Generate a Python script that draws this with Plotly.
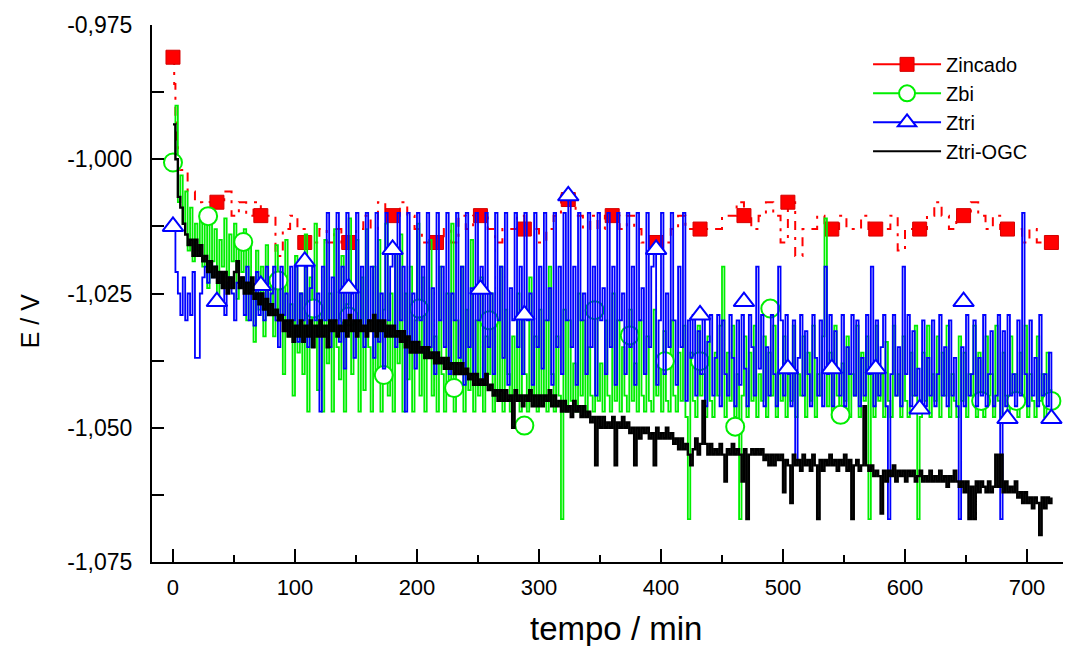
import plotly.graph_objects as go

# ---------------- data ----------------
t_2min = list(range(0, 721, 2))

ztri_ogc = [
    -0.9935, -1.000, -1.007, -1.009, -1.012, -1.014, -1.016, -1.015, -1.018, -1.015,
    -1.018, -1.016, -1.019, -1.018, -1.021, -1.019, -1.022, -1.020, -1.023, -1.021,
    -1.024, -1.021, -1.025, -1.022, -1.024, -1.021, -1.019, -1.024, -1.022, -1.025,
    -1.023, -1.025, -1.022, -1.026, -1.025, -1.027, -1.025, -1.028, -1.026, -1.029,
    -1.027, -1.029, -1.028, -1.030, -1.029, -1.032, -1.030, -1.033, -1.030, -1.034,
    -1.031, -1.033, -1.030, -1.034, -1.031, -1.033, -1.030, -1.035, -1.031, -1.033,
    -1.030, -1.033, -1.031, -1.035, -1.030, -1.032, -1.030, -1.033, -1.031, -1.032,
    -1.030, -1.033, -1.029, -1.032, -1.030, -1.033, -1.030, -1.032, -1.031, -1.033,
    -1.030, -1.032, -1.029, -1.033, -1.030, -1.032, -1.030, -1.033, -1.031, -1.033,
    -1.031, -1.033, -1.032, -1.034, -1.032, -1.035, -1.033, -1.036, -1.034, -1.036,
    -1.034, -1.036, -1.035, -1.037, -1.035, -1.037, -1.036, -1.038, -1.036, -1.038,
    -1.037, -1.039, -1.037, -1.039, -1.038, -1.040, -1.038, -1.040, -1.038, -1.040,
    -1.039, -1.041, -1.040, -1.042, -1.040, -1.042, -1.041, -1.042, -1.040, -1.043,
    -1.042, -1.044, -1.043, -1.045, -1.043, -1.045, -1.043, -1.045, -1.044, -1.050,
    -1.043, -1.045, -1.044, -1.046, -1.044, -1.045, -1.043, -1.046, -1.044, -1.046,
    -1.044, -1.046, -1.044, -1.045, -1.043, -1.046, -1.044, -1.046, -1.045, -1.047,
    -1.045, -1.047, -1.046, -1.048, -1.045, -1.047, -1.046, -1.048, -1.046, -1.048,
    -1.047, -1.049, -1.048, -1.057, -1.048, -1.050, -1.048, -1.050, -1.049, -1.050,
    -1.048, -1.057, -1.049, -1.050, -1.048, -1.050, -1.049, -1.051, -1.050, -1.057,
    -1.050, -1.052, -1.050, -1.051, -1.050, -1.052, -1.051, -1.057, -1.050, -1.052,
    -1.051, -1.052, -1.050, -1.052, -1.051, -1.053, -1.052, -1.054, -1.052, -1.054,
    -1.053, -1.055, -1.057, -1.054, -1.052, -1.055, -1.053, -1.045, -1.053, -1.055,
    -1.053, -1.055, -1.054, -1.055, -1.053, -1.055, -1.060, -1.054, -1.055, -1.053,
    -1.055, -1.054, -1.055, -1.060, -1.054, -1.067, -1.055, -1.054, -1.055, -1.054,
    -1.055, -1.054, -1.056, -1.055, -1.057, -1.055, -1.057, -1.055, -1.056, -1.055,
    -1.062, -1.056, -1.057, -1.064, -1.055, -1.057, -1.056, -1.058, -1.055, -1.057,
    -1.056, -1.058, -1.055, -1.057, -1.067, -1.056, -1.058, -1.056, -1.057, -1.055,
    -1.057, -1.056, -1.058, -1.056, -1.057, -1.055, -1.058, -1.056, -1.067, -1.057,
    -1.056, -1.058, -1.057, -1.046, -1.057, -1.058, -1.057, -1.059, -1.058, -1.059,
    -1.066, -1.058, -1.060, -1.058, -1.059, -1.057, -1.060, -1.058, -1.059, -1.058,
    -1.060, -1.058, -1.059, -1.058, -1.060, -1.059, -1.058, -1.060, -1.059, -1.060,
    -1.058, -1.060, -1.059, -1.060, -1.058, -1.060, -1.059, -1.061, -1.059, -1.060,
    -1.058, -1.060, -1.061, -1.060, -1.062, -1.060, -1.067, -1.061, -1.067, -1.060,
    -1.062, -1.060, -1.061, -1.062, -1.060, -1.062, -1.061, -1.055, -1.061, -1.055,
    -1.062, -1.060, -1.062, -1.061, -1.062, -1.060, -1.063, -1.062, -1.064, -1.062,
    -1.064, -1.063, -1.065, -1.063, -1.064, -1.070, -1.063, -1.065, -1.063, -1.064,
    -1.063,
]

ztri = [
    -1.013, -1.021, -1.025, -1.029, -1.022, -1.030, -1.025, -1.029, -1.021, -1.037,
    -1.037, -1.025, -1.022, -1.020, -1.023, -1.021, -1.022, -1.020, -1.023, -1.021,
    -1.024, -1.029, -1.023, -1.022, -1.025, -1.030, -1.023, -1.024, -1.022, -1.029,
    -1.020, -1.030, -1.025, -1.031, -1.021, -1.029, -1.025, -1.030, -1.020, -1.029,
    -1.025, -1.020, -1.030, -1.035, -1.020, -1.029, -1.025, -1.032, -1.020, -1.030,
    -1.020, -1.034, -1.025, -1.030, -1.020, -1.035, -1.024, -1.020, -1.030, -1.025,
    -1.047, -1.020, -1.030, -1.010, -1.035, -1.022, -1.030, -1.010, -1.034, -1.020,
    -1.039, -1.010, -1.030, -1.025, -1.037, -1.010, -1.032, -1.020, -1.035, -1.010,
    -1.030, -1.020, -1.037, -1.010, -1.034, -1.025, -1.039, -1.010, -1.030, -1.020,
    -1.017, -1.035, -1.010, -1.030, -1.020, -1.047, -1.010, -1.034, -1.025, -1.039,
    -1.010, -1.030, -1.020, -1.037, -1.010, -1.035, -1.024, -1.040, -1.010, -1.030,
    -1.020, -1.035, -1.010, -1.040, -1.025, -1.030, -1.010, -1.037, -1.020, -1.042,
    -1.010, -1.035, -1.024, -1.040, -1.010, -1.030, -1.020, -1.042, -1.010, -1.035,
    -1.025, -1.040, -1.010, -1.030, -1.020, -1.037, -1.010, -1.042, -1.024, -1.030,
    -1.010, -1.035, -1.020, -1.040, -1.010, -1.030, -1.025, -1.042, -1.010, -1.035,
    -1.020, -1.039, -1.010, -1.030, -1.024, -1.042, -1.010, -1.035, -1.020, -1.040,
    -1.010, -1.030, -1.007, -1.035, -1.020, -1.042, -1.010, -1.030, -1.025, -1.040,
    -1.010, -1.035, -1.020, -1.044, -1.010, -1.030, -1.024, -1.040, -1.010, -1.035,
    -1.020, -1.042, -1.010, -1.030, -1.025, -1.040, -1.010, -1.035, -1.020, -1.042,
    -1.010, -1.030, -1.024, -1.040, -1.010, -1.035, -1.020, -1.017, -1.042, -1.030,
    -1.010, -1.040, -1.025, -1.035, -1.010, -1.030, -1.042, -1.020, -1.035, -1.010,
    -1.045, -1.030, -1.037, -1.029, -1.044, -1.032, -1.040, -1.029, -1.046, -1.034,
    -1.029, -1.044, -1.037, -1.029, -1.046, -1.030, -1.040, -1.044, -1.029, -1.037,
    -1.046, -1.030, -1.042, -1.029, -1.039, -1.046, -1.029, -1.035, -1.044, -1.020,
    -1.039, -1.029, -1.046, -1.035, -1.044, -1.029, -1.040, -1.046, -1.020, -1.030,
    -1.044, -1.029, -1.040, -1.046, -1.030, -1.056, -1.037, -1.029, -1.044, -1.032,
    -1.040, -1.046, -1.029, -1.037, -1.044, -1.030, -1.046, -1.020, -1.040, -1.029,
    -1.046, -1.032, -1.039, -1.044, -1.029, -1.046, -1.035, -1.040, -1.029, -1.044,
    -1.030, -1.046, -1.037, -1.044, -1.029, -1.040, -1.020, -1.046, -1.030, -1.044,
    -1.035, -1.029, -1.046, -1.067, -1.040, -1.029, -1.044, -1.035, -1.046, -1.020,
    -1.040, -1.029, -1.046, -1.032, -1.044, -1.039, -1.046, -1.030, -1.046, -1.037,
    -1.044, -1.030, -1.046, -1.040, -1.029, -1.044, -1.035, -1.046, -1.030, -1.044,
    -1.037, -1.046, -1.067, -1.035, -1.046, -1.029, -1.044, -1.040, -1.030, -1.046,
    -1.037, -1.044, -1.029, -1.046, -1.040, -1.032, -1.046, -1.044, -1.029, -1.067,
    -1.032, -1.046, -1.029, -1.044, -1.040, -1.046, -1.030, -1.044, -1.010, -1.040,
    -1.046, -1.030, -1.044, -1.037, -1.046, -1.029, -1.044, -1.040, -1.046, -1.036,
    -1.048,
]

zbi = [
    -1.001, -0.990, -1.008, -1.003, -1.012, -1.006, -1.017, -1.009, -1.019, -1.012,
    -1.017, -1.010, -1.020, -1.012, -1.024, -1.011, -1.019, -1.013, -1.026, -1.015,
    -1.020, -1.011, -1.024, -1.014, -1.019, -1.012, -1.026, -1.015, -1.021, -1.013,
    -1.030, -1.016, -1.025, -1.034, -1.017, -1.028, -1.020, -1.033, -1.016, -1.027,
    -1.022, -1.033, -1.016, -1.030, -1.024, -1.040, -1.015, -1.033, -1.027, -1.044,
    -1.018, -1.036, -1.025, -1.040, -1.014, -1.047, -1.022, -1.035, -1.012, -1.043,
    -1.028, -1.047, -1.015, -1.038, -1.025, -1.047, -1.013, -1.035, -1.041, -1.018,
    -1.047, -1.027, -1.011, -1.040, -1.030, -1.015, -1.047, -1.022, -1.043, -1.013,
    -1.035, -1.047, -1.020, -1.040, -1.015, -1.047, -1.028, -1.012, -1.044, -1.025,
    -1.047, -1.017, -1.038, -1.014, -1.047, -1.025, -1.041, -1.020, -1.047, -1.030,
    -1.012, -1.044, -1.022, -1.047, -1.028, -1.015, -1.044, -1.033, -1.047, -1.020,
    -1.040, -1.047, -1.025, -1.044, -1.012, -1.047, -1.030, -1.040, -1.020, -1.047,
    -1.028, -1.043, -1.015, -1.047, -1.030, -1.044, -1.022, -1.047, -1.033, -1.040,
    -1.025, -1.047, -1.030, -1.044, -1.020, -1.047, -1.028, -1.040, -1.047, -1.033,
    -1.044, -1.025, -1.047, -1.030, -1.040, -1.047, -1.022, -1.044, -1.033, -1.047,
    -1.028, -1.045, -1.030, -1.047, -1.020, -1.040, -1.047, -1.033, -1.044, -1.067,
    -1.028, -1.047, -1.030, -1.045, -1.038, -1.047, -1.025, -1.044, -1.030, -1.047,
    -1.035, -1.044, -1.047, -1.028, -1.045, -1.038, -1.047, -1.030, -1.044, -1.047,
    -1.025, -1.045, -1.030, -1.047, -1.035, -1.044, -1.047, -1.028, -1.045, -1.038,
    -1.047, -1.030, -1.044, -1.047, -1.033, -1.045, -1.047, -1.028, -1.044, -1.038,
    -1.047, -1.032, -1.045, -1.047, -1.030, -1.044, -1.047, -1.036, -1.045, -1.031,
    -1.048, -1.067, -1.036, -1.045, -1.048, -1.031, -1.044, -1.040, -1.048, -1.033,
    -1.045, -1.048, -1.036, -1.044, -1.031, -1.020, -1.048, -1.036, -1.045, -1.031,
    -1.048, -1.040, -1.067, -1.044, -1.033, -1.048, -1.036, -1.045, -1.031, -1.048,
    -1.040, -1.045, -1.033, -1.048, -1.036, -1.044, -1.031, -1.048, -1.040, -1.045,
    -1.033, -1.048, -1.038, -1.045, -1.031, -1.048, -1.040, -1.044, -1.033, -1.048,
    -1.036, -1.045, -1.031, -1.048, -1.040, -1.044, -1.033, -1.011, -1.046, -1.036,
    -1.048, -1.031, -1.044, -1.048, -1.038, -1.045, -1.033, -1.048, -1.040, -1.044,
    -1.031, -1.048, -1.036, -1.045, -1.033, -1.067, -1.040, -1.048, -1.031, -1.045,
    -1.040, -1.048, -1.034, -1.045, -1.048, -1.031, -1.044, -1.040, -1.048, -1.033,
    -1.045, -1.048, -1.036, -1.044, -1.031, -1.067, -1.048, -1.036, -1.045, -1.031,
    -1.048, -1.040, -1.045, -1.033, -1.048, -1.036, -1.044, -1.031, -1.048, -1.040,
    -1.045, -1.048, -1.033, -1.045, -1.036, -1.048, -1.040, -1.044, -1.031, -1.048,
    -1.036, -1.045, -1.048, -1.033, -1.044, -1.040, -1.048, -1.031, -1.045, -1.048,
    -1.036, -1.044, -1.048, -1.033, -1.045, -1.040, -1.048, -1.036, -1.045, -1.031,
    -1.048, -1.040, -1.045, -1.048, -1.033, -1.045, -1.040, -1.048, -1.036, -1.043,
    -1.045,
]

zincado_t = [0, 1, 2, 3, 4] + list(range(6, 721, 6))
zincado = [
    -0.981, -0.986, -0.992, -0.997, -1.001,
    -1.002, -1.006, -1.008, -1.0105, -1.008, -1.008, -1.006, -1.0105, -1.008, -1.0105,
    -1.008, -1.0105, -1.0105, -1.018, -1.013, -1.0105, -1.013, -1.0155, -1.0155, -1.013,
    -1.0155, -1.013, -1.0155, -1.0155, -1.013, -1.0105, -1.013, -1.008, -1.0105, -1.0105,
    -1.008, -1.0105, -1.013, -1.0155, -1.0155, -1.0155, -1.013, -1.0155, -1.0105, -1.013,
    -1.0105, -1.0105, -1.013, -1.0155, -1.013, -1.013, -1.0105, -1.013, -1.013, -1.0155,
    -1.013, -1.0105, -1.006, -1.0075, -1.0105, -1.013, -1.0105, -1.013, -1.0105, -1.0105,
    -1.013, -1.0105, -1.013, -1.0155, -1.0155, -1.0155, -1.0155, -1.013, -1.0105, -1.013,
    -1.013, -1.013, -1.013, -1.013, -1.0105, -1.0105, -1.008, -1.0105, -1.013, -1.0105,
    -1.008, -1.0105, -1.0155, -1.008, -1.018, -1.013, -1.013, -1.0105, -1.013, -1.013,
    -1.0105, -1.013, -1.013, -1.0105, -1.013, -1.013, -1.013, -1.0105, -1.017, -1.013,
    -1.013, -1.013, -1.0105, -1.008, -1.0105, -1.013, -1.0105, -1.0105, -1.008, -1.0105,
    -1.013, -1.0105, -1.013, -1.013, -1.013, -1.0155, -1.013, -1.0155, -1.0155, -1.0155,
]

# symbol positions
zincado_sym_t = list(range(0, 721, 36))
zincado_sym = [-0.981, -1.008, -1.0105, -1.0155, -1.0155, -1.0105, -1.0155, -1.0105,
               -1.013, -1.0075, -1.0105, -1.0155, -1.013, -1.0105, -1.008, -1.013,
               -1.013, -1.013, -1.0105, -1.013, -1.0155]

ztri_sym_t = [0, 36, 72, 108, 144, 180, 252, 288, 324, 396, 432, 468, 504, 540,
              576, 612, 648, 684, 720]
ztri_sym = [-1.0125, -1.0265, -1.0235, -1.019, -1.024, -1.0168, -1.0242, -1.029,
            -1.0068, -1.0168, -1.029, -1.0265, -1.039, -1.039, -1.039, -1.0465,
            -1.0265, -1.0483, -1.0483]

zbi_sym_t = [0, 28.8, 57.6, 86.4, 115.2, 144, 172.8, 201.6, 230.4, 259.2, 288,
             345.6, 374.4, 403.2, 432, 460.8, 489.6, 547.2, 662.4, 691.2, 720]
zbi_sym = [-1.0006, -1.0106, -1.0154, -1.0226, -1.0278, -1.0293, -1.0402, -1.0278,
           -1.0426, -1.0300, -1.0496, -1.0281, -1.0328, -1.0376, -1.0376, -1.0498,
           -1.0278, -1.0476, -1.0450, -1.0450, -1.0450]

y_tickvals = [-1.075, -1.050, -1.025, -1.000, -0.975]
y_ticktext = ['-1,075', '-1,050', '-1,025', '-1,000', '-0,975']
y_minorvals = [-1.0625, -1.0375, -1.0125, -0.9875]

assert len(ztri_ogc) == len(t_2min)
assert len(ztri) == len(t_2min)
assert len(zbi) == len(t_2min)
assert len(zincado) == len(zincado_t)

RED, GREEN, BLUE, BLACK = '#ff0000', '#00ee00', '#0000ff', '#000000'

fig = go.Figure()

# Zincado
fig.add_trace(go.Scatter(x=zincado_t, y=zincado, mode='lines', line_shape='hv',
                         line=dict(color=RED, width=2, dash='9px,7px,3px,7px'),
                         showlegend=False, hoverinfo='skip'))
fig.add_trace(go.Scatter(x=zincado_sym_t, y=zincado_sym, mode='markers',
                         marker=dict(symbol='square', size=14, color=RED,
                                     line=dict(color='#d40000', width=1)),
                         showlegend=False, hoverinfo='skip'))
# Zbi
fig.add_trace(go.Scatter(x=t_2min, y=zbi, mode='lines', line_shape='hv',
                         line=dict(color=GREEN, width=1.8),
                         showlegend=False, hoverinfo='skip'))
fig.add_trace(go.Scatter(x=zbi_sym_t, y=zbi_sym, mode='markers',
                         marker=dict(symbol='circle', size=18, color='white',
                                     line=dict(color=GREEN, width=2)),
                         showlegend=False, hoverinfo='skip'))
# Ztri
fig.add_trace(go.Scatter(x=t_2min, y=ztri, mode='lines', line_shape='hv',
                         line=dict(color=BLUE, width=1.8),
                         showlegend=False, hoverinfo='skip'))
fig.add_trace(go.Scatter(x=ztri_sym_t, y=ztri_sym, mode='markers',
                         marker=dict(symbol='triangle-up', size=18, color='white',
                                     line=dict(color=BLUE, width=2)),
                         showlegend=False, hoverinfo='skip'))
# Ztri-OGC
fig.add_trace(go.Scatter(x=t_2min, y=ztri_ogc, mode='lines', line_shape='hv',
                         line=dict(color=BLACK, width=2.4),
                         showlegend=False, hoverinfo='skip'))

# legend entries
fig.add_trace(go.Scatter(x=[None], y=[None], mode='lines+markers', name='Zincado',
                         line=dict(color=RED, width=2),
                         marker=dict(symbol='square', size=14, color=RED,
                                     line=dict(color='#d40000', width=1))))
fig.add_trace(go.Scatter(x=[None], y=[None], mode='lines+markers', name='Zbi',
                         line=dict(color=GREEN, width=2),
                         marker=dict(symbol='circle', size=16, color='white',
                                     line=dict(color=GREEN, width=2))))
fig.add_trace(go.Scatter(x=[None], y=[None], mode='lines+markers', name='Ztri',
                         line=dict(color=BLUE, width=2),
                         marker=dict(symbol='triangle-up', size=16, color='white',
                                     line=dict(color=BLUE, width=2))))
fig.add_trace(go.Scatter(x=[None], y=[None], mode='lines', name='Ztri-OGC',
                         line=dict(color=BLACK, width=2)))

fig.update_layout(
    width=1082, height=646,
    margin=dict(l=152, r=19, t=20, b=84),
    paper_bgcolor='white', plot_bgcolor='white',
    font=dict(family='Liberation Sans, Arial, sans-serif', color='black'),
    showlegend=True,
    legend=dict(x=0.786, y=0.963, xanchor='left', yanchor='top',
                bgcolor='rgba(0,0,0,0)', font=dict(size=20, color='black'),
                itemwidth=68, tracegroupgap=0),
    annotations=[
        dict(text='tempo / min', xref='paper', yref='paper', x=0.509, y=-0.124,
             xanchor='center', yanchor='middle', showarrow=False,
             font=dict(size=33)),
        dict(text='E / V', xref='paper', yref='paper', x=-0.134, y=0.45,
             xanchor='center', yanchor='middle', showarrow=False, textangle=-90,
             font=dict(size=25)),
    ],
)

fig.update_xaxes(
    range=[-17.2, 729.5], showline=True, linewidth=2, linecolor='black',
    showgrid=False, zeroline=False, mirror=False,
    tickmode='linear', tick0=0, dtick=100,
    ticks='inside', ticklen=13, tickwidth=1.5, tickcolor='black',
    minor=dict(ticks='inside', dtick=50, tick0=0, ticklen=7, tickwidth=1.5,
               tickcolor='black', showgrid=False),
    tickfont=dict(family='Liberation Sans Narrow, Liberation Sans, Arial', size=22),
    ticklabelstandoff=5,
)
fig.update_yaxes(
    range=[-1.075, -0.975], showline=True, linewidth=2, linecolor='black',
    showgrid=False, zeroline=False, mirror=False,
    tickmode='array', tickvals=y_tickvals, ticktext=y_ticktext,
    ticks='inside', ticklen=12, tickwidth=1.5, tickcolor='black',
    minor=dict(ticks='inside', tickvals=y_minorvals, ticklen=12, tickwidth=1.5,
               tickcolor='black', showgrid=False),
    tickfont=dict(size=23),
    ticklabelstandoff=13,
)

fig.write_html('out.html')
